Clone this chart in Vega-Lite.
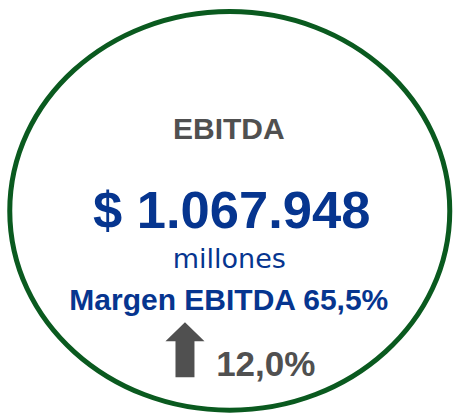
{
  "$schema": "https://vega.github.io/schema/vega-lite/v6.json",
  "width": 454,
  "height": 417,
  "padding": 0,
  "autosize": {"type": "fit", "contains": "padding"},
  "background": "#ffffff",
  "config": {"view": {"stroke": null}},
  "data": {
    "values": [
      {"item": "ring", "text": ""},
      {"item": "title", "text": "EBITDA"},
      {"item": "value", "text": "$ 1.067.948"},
      {"item": "unit", "text": "millones"},
      {"item": "margin", "text": "Margen EBITDA 65,5%"},
      {"item": "arrow", "text": ""},
      {"item": "change", "text": "12,0%"}
    ]
  },
  "layer": [
    {
      "transform": [{"filter": "datum.item == 'ring'"}],
      "mark": {
        "type": "point",
        "shape": "M1,0C1,0.5004 0.5523,0.906 0,0.906C-0.5523,0.906 -1,0.5004 -1,0C-1,-0.5004 -0.5523,-0.906 0,-0.906C0.5523,-0.906 1,-0.5004 1,0Z",
        "size": 193600,
        "filled": false,
        "stroke": "#0a5a1f",
        "strokeWidth": 5,
        "opacity": 1
      },
      "encoding": {
        "x": {"datum": 236, "type": "quantitative", "scale": {"domain": [0, 454], "nice": false, "zero": false}, "axis": null},
        "y": {"datum": 215, "type": "quantitative", "scale": {"domain": [0, 417], "nice": false, "zero": false, "reverse": true}, "axis": null}
      }
    },
    {
      "transform": [{"filter": "datum.item == 'arrow'"}],
      "mark": {
        "type": "point",
        "shape": "M0,-1L0.71,-0.31L0.345,-0.31L0.345,1L-0.345,1L-0.345,-0.31L-0.71,-0.31Z",
        "size": 3025,
        "filled": true,
        "fill": "#505050",
        "strokeWidth": 0,
        "opacity": 1
      },
      "encoding": {
        "x": {"datum": 190, "type": "quantitative"},
        "y": {"datum": 356.5, "type": "quantitative"}
      }
    },
    {
      "transform": [{"filter": "datum.item == 'title'"}],
      "mark": {"type": "text", "align": "center", "baseline": "alphabetic", "font": "Liberation Sans, Arial, sans-serif", "fontWeight": "bold", "fontSize": 30, "color": "#505050"},
      "encoding": {
        "x": {"datum": 235, "type": "quantitative"},
        "y": {"datum": 142, "type": "quantitative"},
        "text": {"field": "text"}
      }
    },
    {
      "transform": [{"filter": "datum.item == 'value'"}],
      "mark": {"type": "text", "align": "center", "baseline": "alphabetic", "font": "Liberation Sans, Arial, sans-serif", "fontWeight": "bold", "fontSize": 52.5, "color": "#06358f"},
      "encoding": {
        "x": {"datum": 238, "type": "quantitative"},
        "y": {"datum": 232, "type": "quantitative"},
        "text": {"field": "text"}
      }
    },
    {
      "transform": [{"filter": "datum.item == 'unit'"}],
      "mark": {"type": "text", "align": "center", "baseline": "alphabetic", "font": "DejaVu Sans, sans-serif", "fontSize": 27, "color": "#06358f"},
      "encoding": {
        "x": {"datum": 235.5, "type": "quantitative"},
        "y": {"datum": 273, "type": "quantitative"},
        "text": {"field": "text"}
      }
    },
    {
      "transform": [{"filter": "datum.item == 'margin'"}],
      "mark": {"type": "text", "align": "center", "baseline": "alphabetic", "font": "Liberation Sans, Arial, sans-serif", "fontWeight": "bold", "fontSize": 30, "color": "#06358f"},
      "encoding": {
        "x": {"datum": 235, "type": "quantitative"},
        "y": {"datum": 316, "type": "quantitative"},
        "text": {"field": "text"}
      }
    },
    {
      "transform": [{"filter": "datum.item == 'change'"}],
      "mark": {"type": "text", "align": "center", "baseline": "alphabetic", "font": "Liberation Sans, Arial, sans-serif", "fontWeight": "bold", "fontSize": 35, "color": "#505050"},
      "encoding": {
        "x": {"datum": 273, "type": "quantitative"},
        "y": {"datum": 383, "type": "quantitative"},
        "text": {"field": "text"}
      }
    }
  ]
}
